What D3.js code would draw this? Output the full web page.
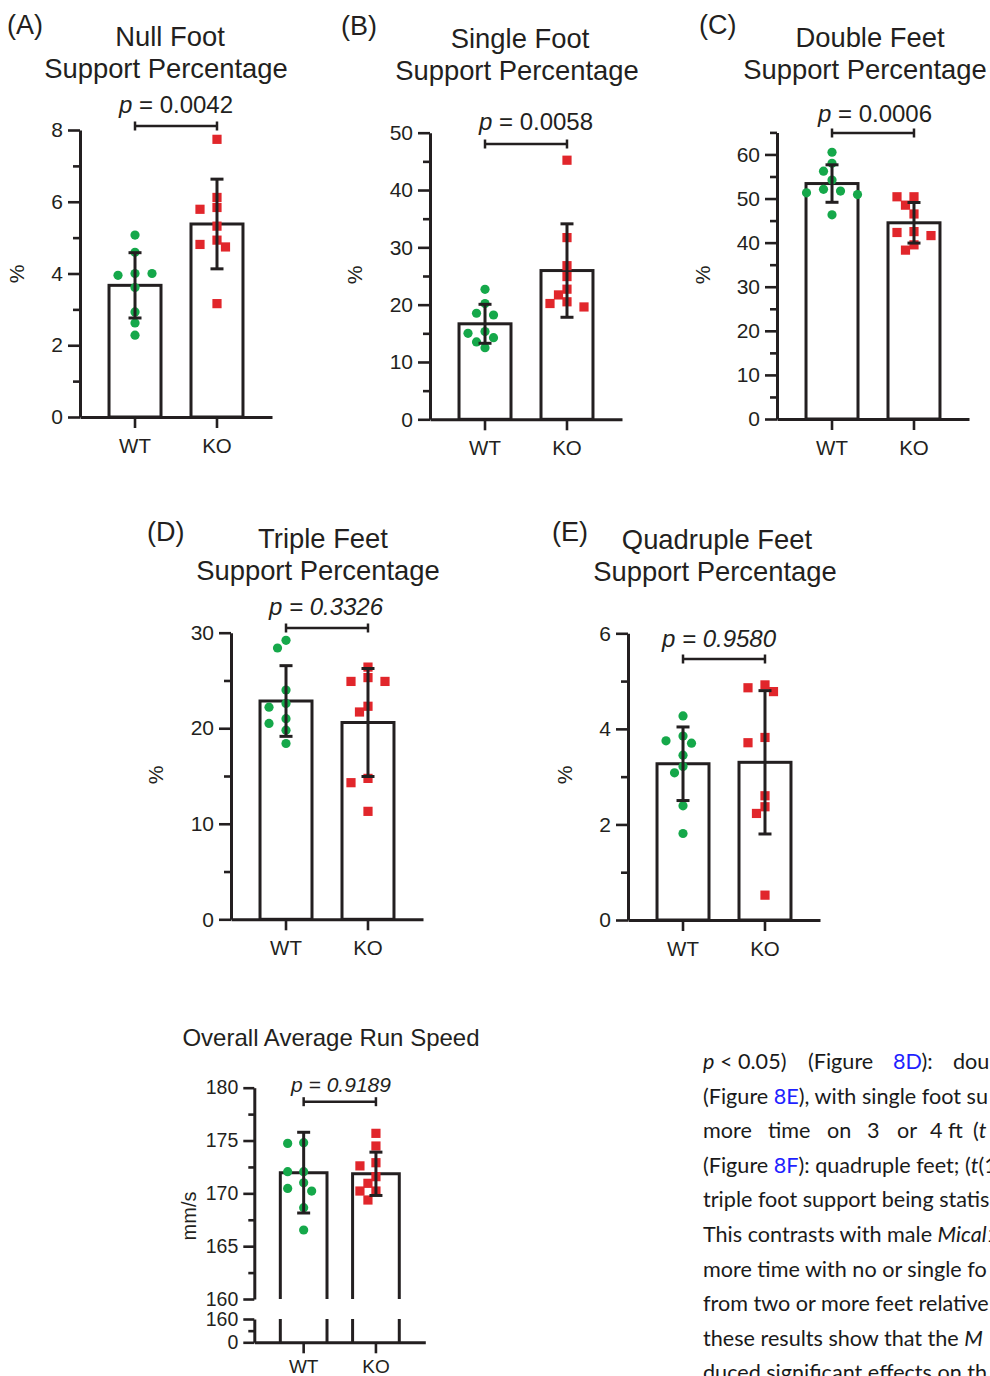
<!DOCTYPE html>
<html>
<head>
<meta charset="utf-8">
<script src="https://cdn.jsdelivr.net/npm/d3@7"></script>
<style>
  body { margin: 0; background: #fff; }
  svg { display: block; font-family: "Liberation Sans", Arial, Helvetica, sans-serif; }
</style>
</head>
<body>
<svg id="fig" width="990" height="1376"></svg>
<script>
// ---- data ----
const groups = ["WT", "KO"];

// (A) null foot support, %
const nullWT = [5.07, 4.59, 4.0, 3.95, 4.0, 3.61, 2.93, 2.62, 2.28];
const nullKO = [7.74, 6.12, 5.84, 5.79, 5.32, 4.93, 4.81, 4.74, 3.16];
const nullMean = [3.67, 5.38];
const nullSD = [0.91, 1.25];
const nullTicks = [0, 2, 4, 6, 8];

// (B) single foot support, %
const singleWT = [22.67, 20.2, 18.5, 18.2, 15.3, 15.0, 14.24, 13.5, 12.5];
const singleKO = [45.2, 31.7, 26.8, 24.9, 22.7, 21.7, 20.5, 20.2, 19.6];
const singleMean = [16.66, 25.95];
const singleSD = [3.4, 8.15];
const singleTicks = [0, 10, 20, 30, 40, 50];

// (C) double feet support, %
const doubleWT = [60.5, 58.0, 56.2, 54.2, 52.1, 51.7, 51.3, 50.9, 46.3];
const doubleKO = [50.4, 50.4, 48.5, 46.5, 42.5, 42.3, 41.6, 39.5, 38.3];
const doubleMean = [53.4, 44.5];
const doubleSD = [4.25, 4.6];
const doubleTicks = [0, 10, 20, 30, 40, 50, 60];

// (D) triple feet support, %
const tripleWT = [29.2, 28.4, 24.0, 22.6, 22.2, 21.0, 20.5, 19.8, 18.4];
const tripleKO = [26.4, 25.3, 24.9, 24.9, 22.3, 21.7, 14.75, 14.3, 11.3];
const tripleMean = [22.85, 20.6];
const tripleSD = [3.7, 5.65];
const tripleTicks = [0, 10, 20, 30];

// (E) quadruple feet support, %
const quadWT = [4.27, 3.85, 3.75, 3.70, 3.45, 3.21, 3.08, 2.39, 1.81];
const quadKO = [4.92, 4.86, 4.78, 3.82, 3.71, 2.60, 2.37, 2.23, 0.52];
const quadMean = [3.27, 3.30];
const quadSD = [0.77, 1.5];
const quadTicks = [0, 2, 4, 6];

// overall average run speed, mm/s (broken axis)
const speedWT = [174.8, 174.73, 172.05, 172.05, 171.0, 170.47, 170.22, 168.64, 166.53];
const speedKO = [175.68, 174.48, 172.9, 172.6, 171.58, 170.95, 170.22, 170.22, 169.37];
const speedMean = [171.96, 171.85];
const speedSD = [3.82, 2.05];
const speedTicks = [160, 165, 170, 175, 180];
const speedLowTicks = [0, 160];

const pValues = ["0.0042", "0.0058", "0.0006", "0.3326", "0.9580", "0.9189"];

// ---- drawing ----
const INK = "#231f20";
const GREEN = "#15a84a";
const RED = "#e1262b";
const fmt = d3.format("~g");

const svg = d3.select("#fig");
svg.append("rect").attr("width", 990).attr("height", 1376).attr("fill", "#fff");

// simple beeswarm: try centre, then alternate sides
function swarm(vals, y, step, minDist) {
  const placed = [];
  return vals.map(v => {
    const py = y(v);
    let off = 0;
    for (let k = 0; k < 16; k++) {
      off = k === 0 ? 0 : Math.ceil(k / 2) * step * (k % 2 ? -1 : 1);
      if (placed.every(q => Math.hypot(q.dx - off, q.py - py) >= minDist))
        break;
    }
    placed.push({dx: off, py: py});
    return {v: v, dx: off, py: py};
  });
}

function styleAxis(a, fontSize) {
  a.selectAll(".domain").attr("stroke", INK).attr("stroke-width", 3);
  a.selectAll(".tick line").attr("stroke", INK).attr("stroke-width", 2.6);
  a.selectAll(".tick text").attr("fill", INK).style("font-size", fontSize + "px")
    .style("font-family", "\"Liberation Sans\", Arial, sans-serif");
}

function drawPoints(g, x, y, wt, ko, step) {
  const sw = swarm(wt, y, step, 10);
  g.append("g").selectAll("circle").data(sw).join("circle")
    .attr("cx", d => x("WT") + x.bandwidth() / 2 + d.dx)
    .attr("cy", d => d.py)
    .attr("r", 4.6)
    .attr("fill", GREEN);

  const sk = swarm(ko, y, step, 10);
  g.append("g").selectAll("rect").data(sk).join("rect")
    .attr("x", d => x("KO") + x.bandwidth() / 2 + d.dx - 4.6)
    .attr("y", d => d.py - 4.6)
    .attr("width", 9.2)
    .attr("height", 9.2)
    .attr("fill", RED);
}

function drawErrors(g, x, y, mean, sd) {
  const eb = g.append("g").attr("stroke", INK).attr("stroke-width", 3).attr("fill", "none");
  groups.forEach((k, i) => {
    const cx = x(k) + x.bandwidth() / 2;
    eb.append("line").attr("x1", cx).attr("x2", cx)
      .attr("y1", y(mean[i] - sd[i])).attr("y2", y(mean[i] + sd[i]));
    [mean[i] - sd[i], mean[i] + sd[i]].forEach(v => {
      eb.append("line").attr("x1", cx - 6.5).attr("x2", cx + 6.5)
        .attr("y1", y(v)).attr("y2", y(v));
    });
  });
}

function drawBracket(g, x, by, tx, ty, pv, allItalic, fontSize) {
  const x1 = x("WT") + x.bandwidth() / 2, x2 = x("KO") + x.bandwidth() / 2;
  const b = g.append("g").attr("stroke", INK).attr("stroke-width", 2.5);
  b.append("line").attr("x1", x1).attr("x2", x2).attr("y1", by).attr("y2", by);
  [x1, x2].forEach(xx => b.append("line").attr("x1", xx).attr("x2", xx)
    .attr("y1", by - 4.5).attr("y2", by + 4.5));

  const t = g.append("text").attr("x", tx).attr("y", ty)
    .attr("text-anchor", "middle").attr("fill", INK)
    .style("font-size", fontSize + "px");
  t.append("tspan").style("font-style", "italic").text("p");
  t.append("tspan").style("font-style", allItalic ? "italic" : "normal").text(" = " + pv);
}

function drawTitle(lines, cx, y0, label, lx, ly, fontSize) {
  const t = svg.append("text").attr("text-anchor", "middle").attr("fill", INK)
    .style("font-size", fontSize + "px");
  lines.forEach((s, i) => t.append("tspan").attr("x", cx[i]).attr("y", y0 + i * 32).text(s));
  if (label)
    svg.append("text").attr("x", lx).attr("y", ly).attr("fill", INK)
      .style("font-size", "27px").text(label);
}

function yLabel(txt, x, y, fontSize) {
  svg.append("text").attr("transform", `translate(${x},${y}) rotate(-90)`)
    .attr("text-anchor", "middle").attr("dominant-baseline", "middle")
    .attr("fill", INK).style("font-size", fontSize + "px").text(txt);
}

function drawPanel(p) {
  const g = svg.append("g");
  const y = d3.scaleLinear().domain([0, p.max]).range([p.y0, p.yTop]);
  const x = d3.scaleBand().domain(groups).range([p.ax, p.ax + 192])
    .paddingInner(0.366).paddingOuter(0.354);

  // bars
  g.append("g").selectAll("rect").data(groups).join("rect")
    .attr("x", d => x(d)).attr("width", x.bandwidth())
    .attr("y", (d, i) => y(p.mean[i]))
    .attr("height", (d, i) => p.y0 - y(p.mean[i]))
    .attr("fill", "#fff").attr("stroke", INK).attr("stroke-width", 3);

  // axes
  const yMinor = g.append("g").attr("transform", `translate(${p.ax},0)`)
    .call(d3.axisLeft(y).tickValues(p.minor).tickSize(7).tickFormat(""));
  yMinor.select(".domain").remove();
  styleAxis(yMinor, 21);
  const yAx = g.append("g").attr("transform", `translate(${p.ax},0)`)
    .call(d3.axisLeft(y).tickValues(p.ticks).tickFormat(fmt)
      .tickSize(12).tickSizeOuter(0).tickPadding(5));
  styleAxis(yAx, 21);
  const xAx = g.append("g").attr("transform", `translate(0,${p.y0})`)
    .call(d3.axisBottom(x).tickSize(11).tickSizeOuter(0).tickPadding(10));
  styleAxis(xAx, 20.5);

  drawPoints(g, x, y, p.wt, p.ko, 8.5);
  drawErrors(g, x, y, p.mean, p.sd);
  drawBracket(g, x, p.by, p.tx, p.ty, p.pv, p.italic, 24);

  drawTitle(p.title, p.titleX, p.titleY, p.label, p.lx, p.ly, 27.4);
  yLabel("%", p.ylx, p.yly, 21);
}

drawPanel({ax: 80, y0: 417, yTop: 130, max: 8, ticks: nullTicks, minor: d3.range(1, 8, 2),
  wt: nullWT, ko: nullKO, mean: nullMean, sd: nullSD,
  by: 126, tx: 176, ty: 113, pv: pValues[0], italic: false,
  title: ["Null Foot", "Support Percentage"], titleX: [170, 166], titleY: 46,
  label: "(A)", lx: 7, ly: 34, ylx: 18, yly: 274});

drawPanel({ax: 430, y0: 419.3, yTop: 132.7, max: 50, ticks: singleTicks, minor: d3.range(5, 50, 10),
  wt: singleWT, ko: singleKO, mean: singleMean, sd: singleSD,
  by: 144, tx: 536, ty: 130, pv: pValues[1], italic: false,
  title: ["Single Foot", "Support Percentage"], titleX: [520, 517], titleY: 48,
  label: "(B)", lx: 341, ly: 35, ylx: 356, yly: 275});

drawPanel({ax: 777, y0: 419, yTop: 132.4, max: 65, ticks: doubleTicks, minor: d3.range(5, 66, 10),
  wt: doubleWT, ko: doubleKO, mean: doubleMean, sd: doubleSD,
  by: 133, tx: 875, ty: 122, pv: pValues[2], italic: false,
  title: ["Double Feet", "Support Percentage"], titleX: [870, 865], titleY: 47,
  label: "(C)", lx: 699, ly: 34, ylx: 704, yly: 275});

drawPanel({ax: 231, y0: 919.3, yTop: 632.7, max: 30, ticks: tripleTicks, minor: [5, 15, 25],
  wt: tripleWT, ko: tripleKO, mean: tripleMean, sd: tripleSD,
  by: 628, tx: 326, ty: 615, pv: pValues[3], italic: true,
  title: ["Triple Feet", "Support Percentage"], titleX: [323, 318], titleY: 548,
  label: "(D)", lx: 147, ly: 541, ylx: 157, yly: 775});

drawPanel({ax: 628, y0: 920, yTop: 633.3, max: 6, ticks: quadTicks, minor: [1, 3, 5],
  wt: quadWT, ko: quadKO, mean: quadMean, sd: quadSD,
  by: 659, tx: 719, ty: 647, pv: pValues[4], italic: true,
  title: ["Quadruple Feet", "Support Percentage"], titleX: [717, 715], titleY: 549,
  label: "(E)", lx: 552, ly: 541, ylx: 566, yly: 775});

// ---- run speed panel with broken y axis ----
(function() {
  const ax = 254.3;
  const g = svg.append("g");
  const yU = d3.scaleLinear().domain([160, 180]).range([1299, 1087.7]);
  const yL = d3.scaleLinear().domain([0, 160]).range([1342.3, 1319]);
  const x = d3.scaleBand().domain(groups).range([ax, ax + 171])
    .paddingInner(0.354).paddingOuter(0.36);

  // bars: top part open at the break, stubs below it
  const bars = g.append("g").attr("fill", "none").attr("stroke", INK).attr("stroke-width", 3);
  groups.forEach((k, i) => {
    const l = x(k), r = x(k) + x.bandwidth();
    bars.append("path").attr("d", `M${l},${yU(160)}V${yU(speedMean[i])}H${r}V${yU(160)}`);
    [l, r].forEach(xx => bars.append("line").attr("x1", xx).attr("x2", xx)
      .attr("y1", yL(160)).attr("y2", yL(0)));
  });

  const up = g.append("g").attr("transform", `translate(${ax},0)`);
  up.append("g").call(d3.axisLeft(yU).tickValues([162.5, 167.5, 172.5, 177.5]).tickSize(6).tickFormat(""))
    .call(a => a.select(".domain").remove()).call(a => styleAxis(a, 19.5));
  up.append("g").call(d3.axisLeft(yU).tickValues(speedTicks).tickFormat(fmt)
      .tickSize(11).tickSizeOuter(0).tickPadding(5))
    .call(a => styleAxis(a, 19.5));

  const low = g.append("g").attr("transform", `translate(${ax},0)`);
  low.append("g").call(d3.axisLeft(yL).tickValues([80]).tickSize(6).tickFormat(""))
    .call(a => a.select(".domain").remove()).call(a => styleAxis(a, 19.5));
  low.append("g").call(d3.axisLeft(yL).tickValues(speedLowTicks).tickFormat(fmt)
      .tickSize(11).tickSizeOuter(0).tickPadding(5))
    .call(a => styleAxis(a, 19.5));

  g.append("g").attr("transform", `translate(0,${yL(0)})`)
    .call(d3.axisBottom(x).tickSize(11).tickSizeOuter(0).tickPadding(6))
    .call(a => styleAxis(a, 19));

  const sw = swarm(speedWT, yU, 8, 10);
  g.append("g").selectAll("circle").data(sw).join("circle")
    .attr("cx", d => x("WT") + x.bandwidth() / 2 + d.dx).attr("cy", d => d.py)
    .attr("r", 4.6).attr("fill", GREEN);
  const sk = swarm(speedKO, yU, 8, 10);
  g.append("g").selectAll("rect").data(sk).join("rect")
    .attr("x", d => x("KO") + x.bandwidth() / 2 + d.dx - 4.6).attr("y", d => d.py - 4.6)
    .attr("width", 9.2).attr("height", 9.2).attr("fill", RED);

  drawErrors(g, x, yU, speedMean, speedSD);
  drawBracket(g, x, 1101.7, 341, 1092, pValues[5], true, 21);

  drawTitle(["Overall Average Run Speed"], [331], 1046, null, 0, 0, 24);
  yLabel("mm/s", 191, 1216, 20);
})();

// ---- running text on the right, cut by the page edge as in the source ----
const bodyLines = [
  [{t: "p", s: "i", x: 703}, {t: " < 0.05)"}, {t: "(Figure", x: 808}, {t: "8D", s: "b", x: 893}, {t: "):"}, {t: "dou", x: 953}],
  [{t: "(Figure "}, {t: "8E", s: "b"}, {t: "), with single foot su"}],
  [{t: "more", x: 703}, {t: "time", x: 768}, {t: "on", x: 827}, {t: "3", x: 867}, {t: "or", x: 897},
   {t: "4\u00a0ft", x: 930}, {t: "(", x: 973}, {t: "t", s: "i"}],
  [{t: "(Figure "}, {t: "8F", s: "b"}, {t: "): quadruple feet; ("}, {t: "t", s: "i"}, {t: "(1"}],
  [{t: "triple foot support being statis"}],
  [{t: "This contrasts with male "}, {t: "Mical1", s: "i"}],
  [{t: "more time with no or single fo"}],
  [{t: "from two or more feet relative"}],
  [{t: "these results show that the "}, {t: "M", s: "i"}],
  [{t: "duced significant effects on th"}]
];

const body = svg.append("g").style("font-family", "Lato, \"Open Sans\", sans-serif")
  .style("font-size", "21.6px").attr("fill", "#1a1a1a");
bodyLines.forEach((line, i) => {
  const t = body.append("text").attr("x", 703).attr("y", 1069 + i * 34.6);
  line.forEach(seg => {
    const s = t.append("tspan").text(seg.t);
    if (seg.x != null) s.attr("x", seg.x);
    if (seg.s === "i") s.style("font-style", "italic");
    if (seg.s === "b") s.attr("fill", "#1f1fff");
  });
});
</script>
</body>
</html>
